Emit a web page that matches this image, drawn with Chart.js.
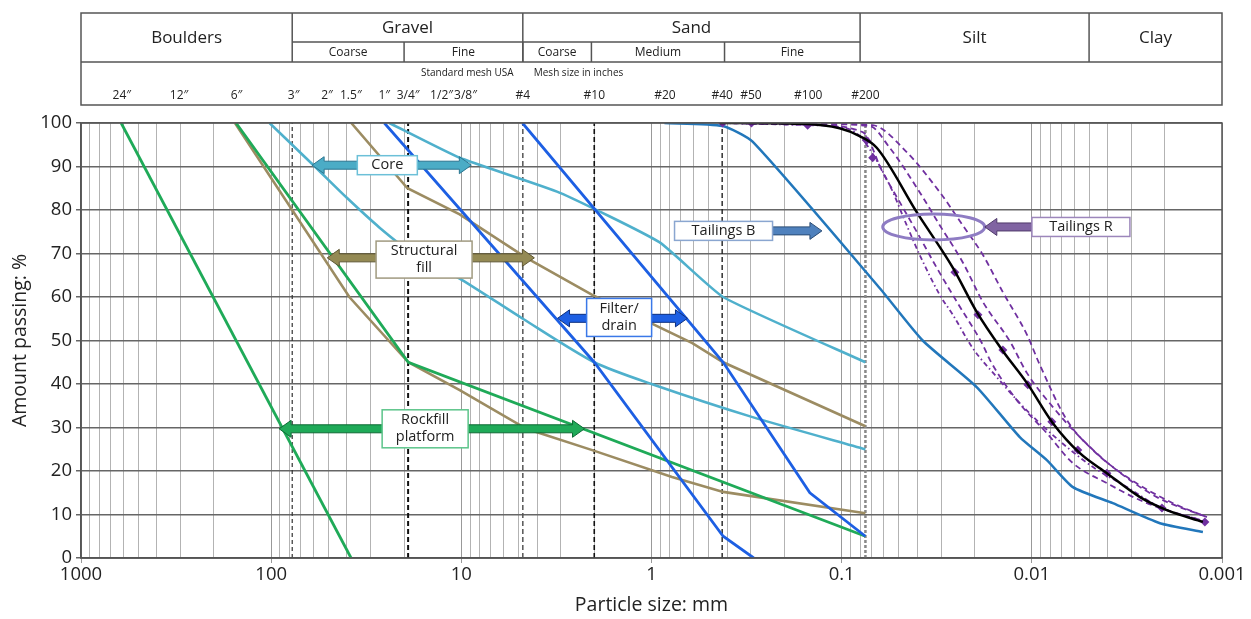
<!DOCTYPE html>
<html><head><meta charset="utf-8">
<script src="https://cdn.jsdelivr.net/npm/chart.js@4.4.1/dist/chart.umd.min.js"></script>
<style>html,body{margin:0;padding:0;background:#fff;}#wrap{width:1251px;height:619px;position:relative;}</style>
</head><body><div id="wrap"><canvas id="c" width="1251" height="619"></canvas></div>
<script>
// ---------------- DATA ----------------
const xTickValues = [1000, 100, 10, 1, 0.1, 0.01, 0.001];
const xTickLabels = ['1000', '100', '10', '1', '0.1', '0.01', '0.001'];

// grading curves: [particle size mm, % passing]
const rockfillA   = [[615,100],[38,0]];
const rockfillB   = [[153,100],[19,45],[0.075,5]];
const structuralA = [[155,100],[38.8,60],[19,45],[10.2,38.6],[4.55,29.7],[2.05,24.8],[0.78,18.6],[0.42,15.2],[0.075,10.3]];
const structuralB = [[37.9,100],[19.2,85],[10.2,79],[4.55,69],[2.05,60.5],[0.61,49.4],[0.42,45],[0.075,30.3]];
const coreA       = [[102,100],[59,90],[40,82.8],[27,76],[18,70],[10,64],[4.75,55],[2,45],[1,40],[0.3,32.5],[0.075,25]];
const coreB       = [[23.9,100],[10.2,92],[3.05,84],[0.91,72.6],[0.42,60],[0.075,45]];
const filterA     = [[25.4,100],[2,45],[0.42,5],[0.29,0]];
const filterB     = [[4.77,100],[0.42,45],[0.147,15],[0.075,5]];
const tailingsB   = [[0.855,100],[0.423,99.3],[0.294,95.7],[0.063,62],[0.0375,50],[0.0195,39.3],[0.01157,27.8],[0.00834,22.5],[0.00608,16.3],[0.00375,12.6],[0.00212,8],[0.00126,6]];
const tailingsR   = [[0.438,100],[0.166,99.8],[0.1025,98.8],[0.0804,97],[0.0654,94.3],[0.0403,79.5],[0.026,66.7],[0.0195,56.6],[0.0142,47.6],[0.0106,40.2],[0.00775,31],[0.00559,24.1],[0.00403,19.5],[0.0027,14],[0.00195,11],[0.00126,8.3]];
const tailingsRPts = [[0.423,100],[0.298,100],[0.151,99.5],[0.0739,96],[0.0687,92],[0.0254,65.7],[0.0192,55.9],[0.0142,47.8],[0.0105,39.8],[0.00785,31.3],[0.00573,24.8],[0.00403,19.5],[0.00207,11.5],[0.00123,8.3]];
const tailingsR1  = [[0.43,100],[0.15,99.5],[0.1,99],[0.0804,97],[0.0559,85.7],[0.0455,76.5],[0.0389,69.7],[0.0305,60.5],[0.026,55.9],[0.0205,48.3],[0.0153,41.6],[0.01157,35.6],[0.00908,31],[0.00654,25.5],[0.00477,20.9],[0.00316,16.3],[0.00212,11.7],[0.0013,8.7]];
const tailingsR2  = [[0.43,100],[0.15,99.6],[0.0775,97.9],[0.0609,88.7],[0.0495,81.8],[0.0403,75],[0.0316,66.7],[0.0248,58.9],[0.0181,49],[0.0166,45.5],[0.012,36.3],[0.00834,28.7],[0.00608,21.8],[0.00403,17.2],[0.00248,12.6],[0.0012,8.3]];
const tailingsR3  = [[0.43,100],[0.15,99.8],[0.0712,99.3],[0.0559,94.3],[0.0389,84.1],[0.0305,76.5],[0.0231,68],[0.0181,58.9],[0.013,49.7],[0.0106,42.5],[0.00775,34.7],[0.00559,27.8],[0.00375,20.9],[0.0022,14],[0.0012,9.4]];
const tailingsR4  = [[0.43,100],[0.15,100],[0.0687,99.5],[0.0455,93.3],[0.0305,84.1],[0.0231,76.5],[0.0181,69.7],[0.0142,61.1],[0.0106,51.3],[0.00908,44.4],[0.00654,31.7],[0.00477,24.8],[0.00316,18.6],[0.00181,12.6],[0.0012,9.4]];

// sieve sizes drawn as vertical dashed lines (mm)
const sieveSizes = [77.5, 19.05, 4.75, 2, 0.425, 0.075];

// header table
const soilClasses = ['Boulders', 'Gravel', 'Sand', 'Silt', 'Clay'];
const soilBounds  = [1000, 77.5, 4.75, 0.08, 0.005, 0.001];
const subClasses  = ['Coarse', 'Fine', 'Coarse', 'Medium', 'Fine'];
const subBounds   = [[77.5, 20], [20, 4.75], [4.75, 2.07], [2.07, 0.413], [0.413, 0.08]];
const meshLabels  = ['24″','12″','6″','3″','2″','1.5″','1″','3/4″','1/2″','3/8″','#4','#10','#20','#40','#50','#100','#200'];
const meshSizes   = [610, 305, 152, 76.2, 50.8, 38.1, 25.4, 19.05, 12.7, 9.5, 4.75, 2, 0.85, 0.425, 0.3, 0.15, 0.075];
const meshNotes   = ['Standard mesh USA', 'Mesh size in inches'];
const meshNoteAt  = [9.3, 2.42];

// ---------------- STYLE / BUILD ----------------
const FONT = "'Open Sans', 'Noto Sans', sans-serif";
const TXT = '#222';
const toXY = a => a.map(([x, y]) => ({x, y}));
function ser(label, arr, color, width, extra) {
  return Object.assign({label, data: toXY(arr), borderColor: color, backgroundColor: color,
    borderWidth: width, pointRadius: 0, fill: false, tension: 0}, extra || {});
}
const PURPLE = '#7030a0';
const dashP = {borderDash: [6, 4], cubicInterpolationMode: 'monotone'};
const sieveStyles = [
  {c: '#333', w: 1.2, d: [4, 3]}, {c: '#111', w: 2, d: [5, 3]}, {c: '#555', w: 1.5, d: [5, 3]},
  {c: '#111', w: 1.6, d: [5, 3]}, {c: '#222', w: 1.4, d: [5, 3]}, {c: '#888', w: 2.5, d: [3, 2]}
];

const datasets = [
  ser('Tailings R', tailingsR, '#000', 2.5, {cubicInterpolationMode: 'monotone'}),
  ser('Tailings R points', tailingsRPts, PURPLE, 0, {showLine: false, pointRadius: 4.5, pointStyle: 'rectRot', pointBorderWidth: 0}),
  ser('Tailings R a', tailingsR1, PURPLE, 1.8, Object.assign({}, dashP, {borderDash: [5, 3, 1.5, 3]})),
  ser('Tailings R b', tailingsR2, PURPLE, 1.8, dashP),
  ser('Tailings R c', tailingsR3, PURPLE, 1.8, dashP),
  ser('Tailings R d', tailingsR4, PURPLE, 1.8, dashP),
  ser('Tailings B', tailingsB, '#2277bb', 2.5, {tension: 0.2}),
  ser('Filter/drain a', filterA, '#1d5fe3', 2.8),
  ser('Filter/drain b', filterB, '#1d5fe3', 2.8),
  ser('Core a', coreA, '#4fb0cc', 2.6, {tension: 0.25}),
  ser('Core b', coreB, '#4fb0cc', 2.6, {tension: 0.15}),
  ser('Rockfill a', rockfillA, '#1faa58', 2.8),
  ser('Rockfill b', rockfillB, '#1faa58', 2.8),
  ser('Structural fill a', structuralA, '#9c8c62', 2.6),
  ser('Structural fill b', structuralB, '#9c8c62', 2.6),
];
sieveSizes.forEach((s, i) => {
  const st = sieveStyles[i];
  datasets.push(ser('sieve ' + s, [[s, 0], [s, 100]], st.c, st.w, {borderDash: st.d}));
});

// grid values: every n×10^k
const gridValues = [];
for (let k = -3; k <= 2; k++) for (let n = 1; n <= 9; n++) gridValues.push(parseFloat((n * Math.pow(10, k)).toPrecision(6)));
gridValues.push(1000);
const decadeIndex = v => xTickValues.findIndex(d => Math.abs(d - v) / d < 1e-6);

// annotations (positions in data units: mm, %)
const annotations = [
  {lines: ['Core'], cx: 24.5, cy: 90.3, w: 60, h: 19, from: 60.9, to: 8.86, ay: 90.3, heads: 'both', fill: '#4bacc6', edge: '#2a7590', border: '#6cc0d8'},
  {lines: ['Structural', 'fill'], cx: 15.7, cy: 68.6, w: 96, h: 37, from: 50.7, to: 4.13, ay: 69, heads: 'both', fill: '#948a54', edge: '#5e5633', border: '#a09a80'},
  {lines: ['Filter/', 'drain'], cx: 1.48, cy: 55.3, w: 65, h: 38, from: 3.12, to: 0.647, ay: 55.1, heads: 'both', fill: '#1d5fe3', edge: '#0c2f80', border: '#3a78e8'},
  {lines: ['Rockfill', 'platform'], cx: 15.5, cy: 29.7, w: 86, h: 38, from: 90.8, to: 2.25, ay: 29.7, heads: 'both', fill: '#1faa58', edge: '#0d6a34', border: '#5cc48a'},
  {lines: ['Tailings B'], cx: 0.418, cy: 75.2, w: 98, h: 19, from: 0.2308, to: 0.127, ay: 75.2, heads: 'to', fill: '#4f81bd', edge: '#2c4d75', border: '#8aa6d0'},
  {lines: ['Tailings R'], cx: 0.00552, cy: 76.1, w: 98, h: 19, from: 0.01, to: 0.01767, ay: 76.1, heads: 'to', fill: '#8064a2', edge: '#4f3a6b', border: '#9c86bb'},
];
const ellipseR = {cx: 0.0328, cy: 76.1, rx: 51, ry: 13};

function blockArrow(ctx, xa, xb, y, heads, fill, edge) {
  const sh = 4, hh = 8.5, hl = 12;
  const L = Math.min(xa, xb), R = Math.max(xa, xb);
  const lh = heads === 'both' || (heads === 'to' && xb < xa);
  const rh = heads === 'both' || (heads === 'to' && xb > xa);
  const l0 = lh ? L + hl : L, r0 = rh ? R - hl : R;
  ctx.beginPath();
  ctx.moveTo(l0, y - sh); ctx.lineTo(r0, y - sh);
  if (rh) { ctx.lineTo(r0, y - hh); ctx.lineTo(R, y); ctx.lineTo(r0, y + hh); }
  ctx.lineTo(r0, y + sh); ctx.lineTo(l0, y + sh);
  if (lh) { ctx.lineTo(l0, y + hh); ctx.lineTo(L, y); ctx.lineTo(l0, y - hh); }
  ctx.closePath();
  ctx.fillStyle = fill; ctx.fill();
  ctx.strokeStyle = edge; ctx.lineWidth = 1; ctx.stroke();
}

const annotPlugin = {
  id: 'annot',
  afterDatasetsDraw(chart) {
    const {ctx, scales: {x, y}, chartArea: a} = chart;
    ctx.save();
    ctx.strokeStyle = '#555'; ctx.lineWidth = 1.5;
    ctx.strokeRect(a.left, a.top, a.right - a.left, a.bottom - a.top);
    ctx.beginPath();
    ctx.ellipse(x.getPixelForValue(ellipseR.cx), y.getPixelForValue(ellipseR.cy), ellipseR.rx, ellipseR.ry, 0, 0, Math.PI * 2);
    ctx.strokeStyle = '#8e7cc3'; ctx.lineWidth = 3; ctx.stroke();
    annotations.forEach(an => {
      blockArrow(ctx, x.getPixelForValue(an.from), x.getPixelForValue(an.to), y.getPixelForValue(an.ay), an.heads, an.fill, an.edge);
      const cx = x.getPixelForValue(an.cx), cy = y.getPixelForValue(an.cy);
      ctx.fillStyle = '#fff';
      ctx.fillRect(cx - an.w / 2, cy - an.h / 2, an.w, an.h);
      ctx.strokeStyle = an.border; ctx.lineWidth = 1.5;
      ctx.strokeRect(cx - an.w / 2, cy - an.h / 2, an.w, an.h);
      ctx.fillStyle = TXT; ctx.font = '14.5px ' + FONT; ctx.textAlign = 'center'; ctx.textBaseline = 'middle';
      const lh = 17, n = an.lines.length;
      an.lines.forEach((t, i) => ctx.fillText(t, cx, cy + (i - (n - 1) / 2) * lh));
    });
    ctx.restore();
  }
};

const headerPlugin = {
  id: 'header',
  afterDraw(chart) {
    const {ctx, scales: {x}, chartArea: a} = chart;
    const top = 13, r1 = 42, r2 = 62, bot = 105;
    const px = v => Math.min(a.right, Math.max(a.left, x.getPixelForValue(v)));
    const seg = (x1, y1, x2, y2) => { ctx.beginPath(); ctx.moveTo(x1, y1); ctx.lineTo(x2, y2); ctx.stroke(); };
    ctx.save();
    ctx.strokeStyle = '#555'; ctx.lineWidth = 1.5;
    ctx.strokeRect(a.left, top, a.right - a.left, bot - top);
    seg(a.left, r2, a.right, r2);
    seg(px(soilBounds[1]), r1, px(soilBounds[3]), r1);
    for (let i = 1; i < soilBounds.length - 1; i++) seg(px(soilBounds[i]), top, px(soilBounds[i]), r2);
    subBounds.forEach(([b0, b1], i) => { if (i > 0) seg(px(b0), r1, px(b0), r2); });
    ctx.fillStyle = TXT; ctx.textAlign = 'center'; ctx.textBaseline = 'middle';
    ctx.font = '17px ' + FONT;
    soilClasses.forEach((c, i) => {
      const cx = (px(soilBounds[i]) + px(soilBounds[i + 1])) / 2;
      const hasSub = c === 'Gravel' || c === 'Sand';
      ctx.fillText(c, cx, hasSub ? (top + r1) / 2 + 1 : (top + r2) / 2 + 1);
    });
    ctx.font = '12px ' + FONT;
    subClasses.forEach((c, i) => ctx.fillText(c, (px(subBounds[i][0]) + px(subBounds[i][1])) / 2, (r1 + r2) / 2 + 1));
    ctx.font = '12px ' + FONT;
    meshLabels.forEach((m, i) => ctx.fillText(m, px(meshSizes[i]), 96));
    ctx.font = '10px ' + FONT;
    meshNotes.forEach((m, i) => ctx.fillText(m, px(meshNoteAt[i]), 73));
    ctx.restore();
  }
};

new Chart(document.getElementById('c'), {
  type: 'line',
  data: {datasets},
  plugins: [annotPlugin, headerPlugin],
  options: {
    responsive: false, animation: false, parsing: true,
    layout: {padding: {left: 4, right: 29, top: 123, bottom: 2}},
    plugins: {legend: {display: false}, tooltip: {enabled: false}},
    scales: {
      x: {
        type: 'logarithmic', reverse: true, min: 0.001, max: 1000,
        afterBuildTicks: s => { s.ticks = gridValues.map(v => ({value: v})); },
        afterFit: s => { s.height = 59; },
        ticks: {autoSkip: false, maxRotation: 0, minRotation: 0, color: TXT, font: {family: FONT, size: 18.5}, padding: 1,
          callback: v => { const i = decadeIndex(v); return i >= 0 ? xTickLabels[i] : ''; }},
        grid: {color: c => decadeIndex(c.tick.value) >= 0 ? '#999' : '#b3b3b3', lineWidth: 1, tickLength: 5,
          tickColor: c => decadeIndex(c.tick.value) >= 0 ? '#999' : 'rgba(0,0,0,0)'},
        border: {color: '#555', width: 1.5},
        title: {display: true, text: 'Particle size: mm', color: TXT, font: {family: FONT, size: 19.5}, padding: {top: 4, bottom: 0}}
      },
      y: {
        min: 0, max: 100,
        afterFit: s => { s.width = 77; },
        ticks: {stepSize: 10, color: TXT, font: {family: FONT, size: 18.5}, padding: 4},
        grid: {color: '#666', lineWidth: 1.5, tickLength: 5},
        border: {color: '#555', width: 1.5},
        title: {display: true, text: 'Amount passing: %', color: TXT, font: {family: FONT, size: 19.5}, padding: {top: 5, bottom: 0}}
      }
    }
  }
});
</script></body></html>
